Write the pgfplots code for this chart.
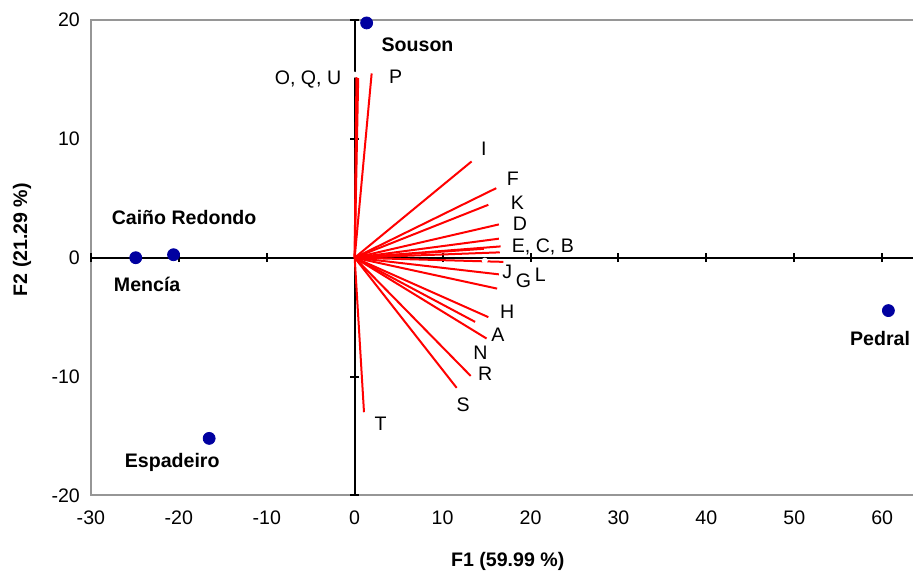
\documentclass[border=0pt]{standalone}
\usepackage{fontspec}
\setmainfont{Liberation Sans}
\usepackage{pgfplots}
\pgfplotsset{compat=1.18}
\usepackage{pgfplotstable}
\definecolor{ptblue}{RGB}{0,0,160}
\definecolor{framegray}{RGB}{150,150,150}

% variable loadings (end points of the red lines)
\pgfplotstableread{
name fx fy
A 15.0 -6.8
B 16.5 0.45
C 16.6 0.95
D 16.4 2.8
E 16.4 1.6
F 16.1 5.85
G 16.2 -2.6
H 15.2 -5.0
I 13.3 8.1
J 16.4 -1.4
K 15.2 4.45
L 16.9 -0.35
M 14.7 0.75
N 13.7 -5.4
O 0.4 15.1
P 1.93 15.5
Q 0.3 15.0
R 13.2 -9.95
S 11.6 -10.95
T 1.06 -13.0
U 0.2 15.2
}\loadings

% variety scores
\pgfplotstableread{
x y
1.36 19.75
-20.6 0.25
-24.9 0.0
-16.55 -15.2
60.7 -4.45
}\scores

\begin{document}
\begin{tikzpicture}[
  lbl/.style={font=\fontsize{9.8}{11}\selectfont, inner sep=0pt},
  vty/.style={font=\fontsize{9.8}{11}\selectfont\bfseries, inner sep=0pt},
]
\begin{axis}[
  scale only axis, width=411.5pt, height=238pt,
  xmin=-30, xmax=63.5, ymin=-20, ymax=20,
  xtick={-30,-20,...,60}, ytick={-20,-10,...,20},
  major tick length=0pt,
  axis line style={draw=none},
  clip=false,
  tick label style={font=\fontsize{9.8}{11}\selectfont},
  /pgf/number format/assume math mode=true,
  xticklabel style={yshift=-4pt},
  yticklabel style={xshift=-2pt},
]
% frame (left, top, bottom)
\draw[framegray, line width=1pt] (rel axis cs:1,1) -- (rel axis cs:0,1)
  -- (rel axis cs:0,0) -- (rel axis cs:1,0);
\path ([xshift=-45.5pt, yshift=10pt]rel axis cs:0,1);

% axes through the origin
\draw[line width=1pt] (axis cs:-30,0) -- (axis cs:63.5,0);
\draw[line width=1pt] (axis cs:0,-20) -- (axis cs:0,20);
\pgfplotsinvokeforeach{-30,-20,-10,10,20,30,40,50,60}{
  \draw[line width=1pt] ([yshift=-2.2pt]axis cs:#1,0) -- ([yshift=2.2pt]axis cs:#1,0);
}
\pgfplotsinvokeforeach{-20,-10,10,20}{
  \draw[line width=1pt] ([xshift=-2.2pt]axis cs:0,#1) -- ([xshift=2.2pt]axis cs:0,#1);
}

% loadings
\addplot[red, line width=1pt, quiver={u=\thisrow{fx}, v=\thisrow{fy}}]
  table[x expr=0, y expr=0] {\loadings};
\addplot[only marks, mark=*, white, mark size=1.3pt]
  coordinates {(0,15.4) (14.8,-0.25)};

% scores
\addplot[only marks, mark=*, ptblue, mark size=3pt] table[x=x, y=y] {\scores};

% variable labels
\node[lbl] at (axis cs:-5.3,15.0) {O, Q, U};
\node[lbl] at (axis cs:4.65,15.2) {P};
\node[lbl] at (axis cs:14.7,9.15) {I};
\node[lbl] at (axis cs:18.0,6.6) {F};
\node[lbl] at (axis cs:18.5,4.6) {K};
\node[lbl] at (axis cs:18.8,2.85) {D};
\node[lbl] at (axis cs:21.4,0.9) {E, C, B};
\node[lbl] at (axis cs:17.35,-1.2) {J};
\node[lbl] at (axis cs:19.2,-1.9) {G};
\node[lbl] at (axis cs:21.1,-1.4) {L};
\node[lbl] at (axis cs:17.35,-4.55) {H};
\node[lbl] at (axis cs:16.3,-6.5) {A};
\node[lbl] at (axis cs:14.3,-8.0) {N};
\node[lbl] at (axis cs:14.85,-9.75) {R};
\node[lbl] at (axis cs:12.35,-12.4) {S};
\node[lbl] at (axis cs:2.95,-13.95) {T};

% variety labels
\node[vty] at (axis cs:7.15,17.9) {Souson};
\node[vty] at (axis cs:-19.4,3.36) {Caiño Redondo};
\node[vty] at (axis cs:-23.6,-2.27) {Mencía};
\node[vty] at (axis cs:-20.75,-17.2) {Espadeiro};
\node[vty] at (axis cs:59.75,-6.8) {Pedral};

% axis titles
\node[vty] at ([yshift=-33pt]rel axis cs:0.507,0) {F1 (59.99 \%)};
\node[vty, rotate=90] at ([xshift=-34.5pt]rel axis cs:0,0.538) {F2 (21.29 \%)};
\end{axis}
\end{tikzpicture}
\end{document}
